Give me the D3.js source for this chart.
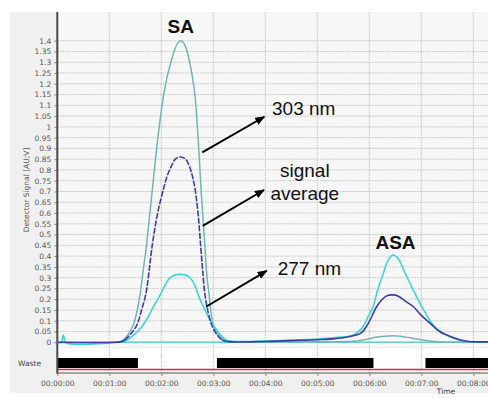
<!DOCTYPE html>
<html>
<head>
<meta charset="utf-8">
<script src="https://cdn.jsdelivr.net/npm/d3@7/dist/d3.min.js"></script>
<style>
  html, body { margin: 0; padding: 0; background: #ffffff; }
  svg { display: block; }
</style>
</head>
<body>
<div id="chart"></div>
<script>
// ---------- DATA ----------
const xTickMinutes = [0, 1, 2, 3, 4, 5, 6, 7, 8];
const xTickLabels = ["00:00:00","00:01:00","00:02:00","00:03:00","00:04:00","00:05:00","00:06:00","00:07:00","00:08:00"];
const yTickLabels = ["0","0.05","0.1","0.15","0.2","0.25","0.3","0.35","0.4","0.45","0.5","0.55","0.6","0.65","0.7","0.75","0.8","0.85","0.9","0.95","1","1.05","1.1","1.15","1.2","1.25","1.3","1.35","1.4"];

// [time (min), signal (AU)]
const trace303 = [[0,0],[1.1,0],[1.21,0.003],[1.27,0.012],[1.36,0.035],[1.46,0.08],[1.53,0.14],[1.59,0.22],[1.65,0.33],[1.71,0.44],[1.82,0.69],[1.93,0.94],[2.04,1.14],[2.11,1.23],[2.18,1.295],[2.26,1.36],[2.32,1.39],[2.37,1.40],[2.43,1.39],[2.49,1.355],[2.55,1.295],[2.60,1.23],[2.65,1.14],[2.71,0.94],[2.77,0.69],[2.84,0.44],[2.88,0.30],[2.92,0.22],[2.96,0.13],[3.0,0.08],[3.1,0.035],[3.22,0.01],[3.4,0.003],[4.5,0.002],[5.5,0.003],[5.7,0.005],[5.9,0.012],[6.1,0.022],[6.3,0.028],[6.46,0.030],[6.6,0.028],[6.8,0.02],[7.0,0.012],[7.2,0.005],[7.4,0.001],[8.3,0]];
const traceAvg = [[0,0],[1.1,0],[1.21,0.002],[1.3,0.01],[1.4,0.035],[1.53,0.08],[1.62,0.15],[1.70,0.22],[1.76,0.32],[1.82,0.44],[1.93,0.60],[2.04,0.71],[2.11,0.77],[2.18,0.81],[2.27,0.85],[2.37,0.86],[2.47,0.85],[2.55,0.81],[2.60,0.77],[2.65,0.71],[2.71,0.59],[2.76,0.44],[2.80,0.32],[2.84,0.22],[2.90,0.14],[2.97,0.08],[3.07,0.035],[3.17,0.01],[3.3,0.003],[4.0,0.004],[4.5,0.008],[5.0,0.012],[5.3,0.016],[5.63,0.027],[5.85,0.045],[5.98,0.088],[6.14,0.165],[6.25,0.20],[6.35,0.217],[6.45,0.22],[6.55,0.215],[6.7,0.19],[6.85,0.165],[7.0,0.125],[7.17,0.088],[7.35,0.05],[7.49,0.034],[7.74,0.012],[7.9,0.004],[8.3,0.002]];
const trace277 = [[0,0],[0.08,0],[0.10,0.022],[0.115,0.034],[0.13,0.022],[0.15,0],[1.2,0],[1.27,0.003],[1.4,0.02],[1.52,0.045],[1.65,0.08],[1.75,0.12],[1.86,0.17],[1.98,0.22],[2.07,0.265],[2.16,0.298],[2.27,0.313],[2.37,0.316],[2.47,0.312],[2.57,0.295],[2.65,0.262],[2.71,0.22],[2.80,0.17],[2.90,0.12],[3.0,0.08],[3.12,0.04],[3.26,0.008],[3.4,0.004],[4.0,0.006],[4.5,0.01],[5.0,0.015],[5.44,0.024],[5.7,0.034],[5.88,0.072],[5.98,0.12],[6.07,0.165],[6.17,0.25],[6.27,0.32],[6.37,0.385],[6.46,0.405],[6.55,0.39],[6.69,0.32],[6.85,0.24],[7.01,0.165],[7.13,0.115],[7.26,0.072],[7.4,0.045],[7.55,0.026],[7.74,0.01],[7.9,0.003],[8.3,0.002]];
const traceBase = [[1.2,0],[8.3,0]];

// valve "Waste" segments [start, end] (min)
const wasteOn = [[0,1.55],[3.07,6.08],[7.08,8.3]];

// annotations in data units
const peakLabels = [{text:"SA", t:2.373, v:1.436}, {text:"ASA", t:6.504, v:0.433}];
const annoTexts = [
  {lines:["303 nm"], t:4.129, v:1.055, anchor:"start"},
  {lines:["signal","average"], t:4.76, v:0.766, anchor:"middle"},
  {lines:["277 nm"], t:4.238, v:0.312, anchor:"start"}
];
const arrows = [
  {t0:2.788, v0:0.882, t1:3.981, v1:1.047},
  {t0:2.796, v0:0.540, t1:3.975, v1:0.707},
  {t0:2.860, v0:0.165, t1:4.027, v1:0.332}
];

// ---------- LAYOUT ----------
const W = 488, H = 398;
const plotLeft = 57.3, plotTop = 12, plotBottom = 347, plotRight = 488;
const stripTop = 348, stripBottom = 373;

const x = d3.scaleLinear().domain([0, 8.28]).range([plotLeft, plotLeft + 52 * 8.28]);
const y = d3.scaleLinear().domain([0, 1.4]).range([342.3, 40.7]);

const svg = d3.select("#chart").append("svg").attr("width", W).attr("height", H);

// panel background
svg.append("rect").attr("x", 10).attr("y", 12).attr("width", W - 10).attr("height", 381).attr("fill", "#f0f0f0");
svg.append("rect").attr("x", plotLeft).attr("y", plotTop).attr("width", plotRight - plotLeft).attr("height", plotBottom - plotTop).attr("fill", "#f7f7f7");
svg.append("rect").attr("x", plotLeft).attr("y", stripTop).attr("width", plotRight - plotLeft).attr("height", stripBottom - stripTop).attr("fill", "#ffffff");

// horizontal grid
const yVals = yTickLabels.map(Number);
svg.append("g").selectAll("line").data(yVals).join("line")
  .attr("x1", plotLeft).attr("x2", plotRight)
  .attr("y1", d => y(d)).attr("y2", d => y(d))
  .attr("stroke", "#c4c4c4").attr("stroke-width", 1).attr("stroke-dasharray", "1.5,1");

// vertical grid
svg.append("g").selectAll("line").data(xTickMinutes.filter(d => d > 0)).join("line")
  .attr("x1", d => x(d)).attr("x2", d => x(d))
  .attr("y1", plotTop).attr("y2", stripBottom)
  .attr("stroke", "#c4c4c4").attr("stroke-width", 1).attr("stroke-dasharray", "1.5,1");

// y tick labels & ticks
const yAxis = d3.axisLeft(y).tickValues(yVals).tickFormat((d, i) => yTickLabels[i]).tickSize(3).tickPadding(3);
const gy = svg.append("g").attr("transform", `translate(${plotLeft},0)`).call(yAxis);
gy.select(".domain").remove();
gy.selectAll("line").attr("stroke", "#888");
gy.selectAll("text").attr("fill", "#555").style("font-family", "DejaVu Sans").style("font-size", "7.5px");

// x tick labels
const xAxis = d3.axisBottom(x).tickValues(xTickMinutes).tickFormat((d, i) => xTickLabels[i]).tickSize(3).tickPadding(5);
const gx = svg.append("g").attr("transform", `translate(0,${stripBottom})`).call(xAxis);
gx.select(".domain").remove();
gx.selectAll("line").attr("stroke", "#888");
gx.selectAll("text").attr("fill", "#555").style("font-family", "DejaVu Sans").style("font-size", "7.5px");

// waste strip
svg.append("g").selectAll("rect").data(wasteOn).join("rect")
  .attr("x", d => x(d[0])).attr("width", d => Math.min(x(d[1]), plotRight) - x(d[0]))
  .attr("y", 358).attr("height", 10).attr("fill", "#000");
svg.append("line").attr("x1", plotLeft).attr("x2", plotRight).attr("y1", 369.5).attr("y2", 369.5)
  .attr("stroke", "#e8212a").attr("stroke-width", 1.6);

// axes frame
svg.append("line").attr("x1", plotLeft).attr("x2", plotRight).attr("y1", stripBottom).attr("y2", stripBottom)
  .attr("stroke", "#8a8a8a").attr("stroke-width", 1.5);
svg.append("line").attr("x1", plotLeft).attr("x2", plotLeft).attr("y1", plotTop).attr("y2", stripBottom + 0.7)
  .attr("stroke", "#4a4a4a").attr("stroke-width", 2);

// texts
svg.append("text").attr("transform", "translate(29,190) rotate(-90)")
  .attr("text-anchor", "middle").attr("fill", "#555")
  .style("font-family", "DejaVu Sans").style("font-size", "7.5px")
  .text("Detector Signal [AU;V]");
svg.append("text").attr("x", 18).attr("y", 366).attr("fill", "#444")
  .style("font-family", "DejaVu Sans").style("font-size", "7.5px").text("Waste");
svg.append("text").attr("x", 446).attr("y", 394).attr("text-anchor", "middle").attr("fill", "#444")
  .style("font-family", "DejaVu Sans").style("font-size", "7.5px").text("Time");

// traces
const curve = d3.curveCatmullRom.alpha(0.5);
const line = d3.line().x(d => x(d[0])).y(d => y(d[1])).curve(curve);
const clip = svg.append("defs").append("clipPath").attr("id", "pc");
clip.append("rect").attr("x", plotLeft).attr("y", plotTop).attr("width", plotRight - plotLeft).attr("height", plotBottom - plotTop);
const gl = svg.append("g").attr("clip-path", "url(#pc)");

gl.append("path").attr("d", line(traceBase)).attr("fill", "none").attr("stroke", "#66cccc").attr("stroke-width", 1.5);
gl.append("path").attr("d", line(trace303)).attr("fill", "none").attr("stroke", "#70b6b4").attr("stroke-width", 1.5);
gl.append("path").attr("d", line(trace277)).attr("fill", "none").attr("stroke", "#3fd4d6").attr("stroke-width", 1.6);
const avgSolid = d3.line().x(d => x(d[0])).y(d => y(d[1])).curve(curve)
  .defined(d => d[0] <= 1.3 || d[0] >= 3.17);
gl.append("path").attr("d", avgSolid(traceAvg)).attr("fill", "none").attr("stroke", "#3d3da6").attr("stroke-width", 1.6);
const avgDash = d3.line().x(d => x(d[0])).y(d => y(d[1])).curve(curve)
  .defined(d => d[0] >= 1.3 && d[0] <= 3.17);
gl.append("path").attr("d", avgDash(traceAvg)).attr("fill", "none").attr("stroke", "#3d3da6").attr("stroke-width", 1.6)
  .attr("stroke-dasharray", "6,1.5");

// arrows
const defs = svg.select("defs");
defs.append("marker").attr("id", "ah").attr("viewBox", "0 0 10 8").attr("refX", 9).attr("refY", 4)
  .attr("markerWidth", 10).attr("markerHeight", 8).attr("markerUnits", "userSpaceOnUse").attr("orient", "auto")
  .append("path").attr("d", "M0,0 L10,4 L0,8 Z").attr("fill", "#000");
svg.append("g").selectAll("line").data(arrows).join("line")
  .attr("x1", d => x(d.t0)).attr("y1", d => y(d.v0))
  .attr("x2", d => x(d.t1)).attr("y2", d => y(d.v1))
  .attr("stroke", "#000").attr("stroke-width", 2).attr("marker-end", "url(#ah)");

// annotation text
annoTexts.forEach(a => {
  const t = svg.append("text").attr("x", x(a.t)).attr("y", y(a.v)).attr("text-anchor", a.anchor)
    .attr("fill", "#111").style("font-family", "Liberation Sans, Arial, sans-serif").style("font-size", "19px");
  a.lines.forEach((l, i) => t.append("tspan").attr("x", x(a.t)).attr("dy", i === 0 ? 0 : 22.7).text(l));
});
svg.append("g").selectAll("text").data(peakLabels).join("text")
  .attr("x", d => x(d.t)).attr("y", d => y(d.v)).attr("text-anchor", "middle")
  .attr("fill", "#111").style("font-family", "Liberation Sans, Arial, sans-serif").style("font-size", "19px")
  .style("font-weight", "bold").text(d => d.text);
</script>
</body>
</html>
